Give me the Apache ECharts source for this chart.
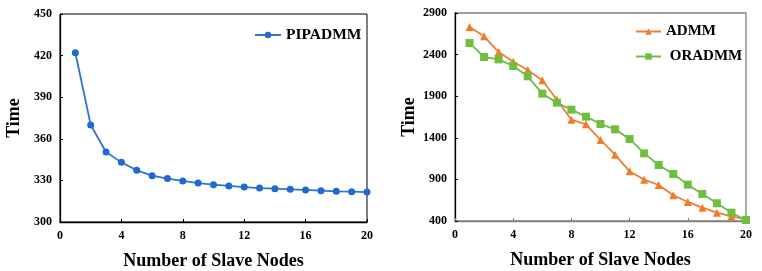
<!DOCTYPE html>
<html><head><meta charset="utf-8">
<script src="https://cdn.jsdelivr.net/npm/echarts@6/dist/echarts.min.js"></script>
<style>html,body{margin:0;padding:0;background:#fff}#c{width:762px;height:271px}</style>
</head><body><div id="c"></div>
<script>
const nodes = [1,2,3,4,5,6,7,8,9,10,11,12,13,14,15,16,17,18,19,20];
const pipadmm = [422.1,370,350.5,343,337.3,333.4,331.3,329.6,328.1,326.9,326,325.2,324.5,324,323.6,323.1,322.6,322.1,321.9,321.6];
const admm = [2732,2620,2431,2315,2215,2091,1858,1618,1562,1374,1197,997,897,833,709,629,560,500,456,420];
const oradmm = [2539,2371,2343,2263,2139,1931,1822,1738,1654,1566,1502,1386,1213,1073,965,837,725,613,500,412];
const xTicks = [0,4,8,12,16,20];
const leftYTicks = [300,330,360,390,420,450];
const rightYTicks = [400,900,1400,1900,2400,2900];

const font = '"Liberation Serif","Times New Roman",serif';
const pair = (xs, ys) => xs.map((x,i)=>[x, ys[i]]);
const lab = {color:'#000', fontFamily:font, fontWeight:'bold', fontSize:12, formatter:(v)=>String(v)};
const nameSt = {color:'#000', fontFamily:font, fontWeight:'bold', fontSize:18};

function xAx(idx, lineColor){
  return {type:'value', gridIndex:idx, min:xTicks[0], max:xTicks[xTicks.length-1], interval:xTicks[1]-xTicks[0],
    name:'Number of Slave Nodes', nameLocation:'middle', nameGap:30, nameTextStyle:nameSt,
    axisLine:{lineStyle:{color:lineColor, width:1.3}}, axisTick:{inside:true, length:3, lineStyle:{color:lineColor}},
    axisLabel:Object.assign({margin:8}, lab), splitLine:{show:false}};
}
function yAx(idx, ticks, lineColor){
  return {type:'value', gridIndex:idx, min:ticks[0], max:ticks[ticks.length-1], interval:ticks[1]-ticks[0],
    name:'Time', nameLocation:'middle', nameGap:37, nameTextStyle:nameSt,
    axisLine:{show:true, lineStyle:{color:lineColor, width:1.3}}, axisTick:{show:true, inside:true, length:3, lineStyle:{color:lineColor}},
    axisLabel:Object.assign({margin:8}, lab), splitLine:{show:false}};
}

const chart = echarts.init(document.getElementById('c'), null, {renderer:'canvas'});
chart.setOption({
  animation:false,
  backgroundColor:'#fff',
  grid:[
    {left:60, top:14, width:307, height:208, outerBoundsMode:'none', containLabel:false, show:true, borderColor:'#000', borderWidth:1, backgroundColor:'transparent'},
    {left:455, top:13, width:291, height:208, outerBoundsMode:'none', containLabel:false, show:true, borderColor:'#7f7f7f', borderWidth:1.3, backgroundColor:'transparent'}
  ],
  xAxis:[xAx(0,'#000'), xAx(1,'#7f7f7f')],
  yAxis:[yAx(0,leftYTicks,'#000'), yAx(1,rightYTicks,'#000')],
  legend:[
    {data:['PIPADMM'], left:249, top:22, itemWidth:26, itemHeight:8, textStyle:{color:'#000', fontFamily:font, fontWeight:'bold', fontSize:15.5}, itemGap:4},
    {data:['ADMM','ORADMM'], left:630, top:19, orient:'vertical', itemWidth:25, itemHeight:8, itemGap:10,
      formatter:(n)=> n==='ORADMM' ? ' ORADMM' : n,
      textStyle:{color:'#000', fontFamily:font, fontWeight:'bold', fontSize:15}}
  ],
  series:[
    {name:'PIPADMM', type:'line', xAxisIndex:0, yAxisIndex:0, data:pair(nodes,pipadmm), symbol:'circle', symbolSize:7,
      lineStyle:{color:'#3371d0', width:1.8}, itemStyle:{color:'#1f6ad0'}},
    {name:'ADMM', type:'line', xAxisIndex:1, yAxisIndex:1, data:pair(nodes,admm), symbol:'triangle', symbolSize:8,
      lineStyle:{color:'#ef7e33', width:1.8}, itemStyle:{color:'#f07c2a'}},
    {name:'ORADMM', type:'line', xAxisIndex:1, yAxisIndex:1, data:pair(nodes,oradmm), symbol:'rect', symbolSize:8,
      lineStyle:{color:'#72b84a', width:1.8}, itemStyle:{color:'#6fbf3f'}}
  ]
});
</script></body></html>
